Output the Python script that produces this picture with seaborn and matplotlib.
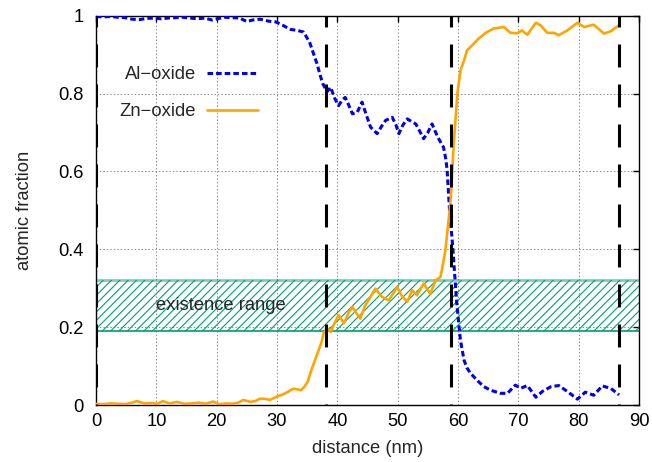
import numpy as np
import pandas as pd
import matplotlib
matplotlib.use("Agg")
import matplotlib.pyplot as plt
import seaborn as sns

# ---------------- data ----------------
al_x = [0, 1.2, 2.4, 3.6, 4.8, 6.0, 7.2, 8.4, 9.6, 10.8, 12.0, 13.2, 14.4, 15.6, 16.8,
        18.0, 19.2, 20.4, 21.4, 22.6, 23.8, 25.0, 26.0, 27.2, 28.6, 29.8, 31.0, 32.2,
        33.4, 34.4, 35.4, 36.0, 36.6, 37.2, 37.6, 38.3, 38.9, 39.5, 40.2, 40.8, 41.3,
        41.9, 42.5, 43.3, 44.1, 44.8, 45.5, 46.6, 47.3, 48.0, 49.1, 49.7, 50.2, 50.9,
        51.6, 52.3, 53.0, 53.6, 54.3, 55.0, 55.7, 56.3, 56.8, 57.6, 58.0, 58.2, 58.6,
        59.0, 59.2, 59.8, 60.4, 61.0, 61.5, 62.1, 63.4, 64.3, 65.4, 67.0, 68.2, 69.5,
        70.4, 71.5, 72.9, 74.0, 75.4, 76.7, 78.1, 79.8, 81.1, 82.5, 83.9, 85.3, 86.7]
al_y = [0.998, 0.997, 0.998, 0.996, 0.995, 0.991, 0.990, 0.993, 0.994, 0.992, 0.994,
        0.995, 0.996, 0.994, 0.992, 0.994, 0.989, 0.993, 0.996, 0.995, 0.994, 0.985,
        0.989, 0.991, 0.986, 0.984, 0.975, 0.965, 0.962, 0.958, 0.932, 0.905, 0.878,
        0.845, 0.825, 0.805, 0.816, 0.790, 0.769, 0.783, 0.790, 0.770, 0.748, 0.752,
        0.778, 0.745, 0.714, 0.697, 0.715, 0.731, 0.739, 0.720, 0.697, 0.720, 0.735,
        0.728, 0.722, 0.705, 0.684, 0.700, 0.722, 0.700, 0.684, 0.662, 0.630, 0.603,
        0.500, 0.430, 0.390, 0.260, 0.167, 0.115, 0.095, 0.081, 0.060, 0.047, 0.038,
        0.030, 0.030, 0.051, 0.043, 0.050, 0.020, 0.035, 0.047, 0.050, 0.035, 0.015,
        0.033, 0.025, 0.049, 0.043, 0.026]

zn_x = [0, 1.2, 2.4, 3.6, 4.8, 6.0, 6.8, 8.0, 9.2, 10.2, 11.1, 12.2, 13.4, 14.6, 15.8,
        17.0, 18.2, 19.4, 20.4, 21.6, 22.6, 23.6, 24.4, 25.6, 26.4, 27.1, 28.0, 28.8,
        29.9, 30.8, 31.6, 32.7, 33.4, 34.0, 34.6, 35.1, 35.7, 36.5, 37.0, 37.4, 37.7,
        38.3, 38.9, 39.6, 40.2, 41.1, 41.8, 42.5, 43.2, 43.8, 44.6, 45.5, 46.3, 47.4,
        48.5, 49.2, 49.9, 50.7, 51.6, 52.4, 53.2, 54.3, 55.4, 56.3, 57.1, 57.6, 57.9,
        58.5, 58.8, 59.3, 59.9, 60.4, 61.0, 61.5, 62.6, 63.4, 64.8, 65.9, 67.6, 68.7,
        69.8, 70.6, 71.5, 72.9, 73.7, 74.8, 75.9, 76.7, 78.1, 79.8, 80.9, 82.5, 84.2,
        85.3, 86.7]
zn_y = [0.003, 0.002, 0.004, 0.003, 0.002, 0.006, 0.010, 0.004, 0.005, 0.003, 0.010,
        0.004, 0.008, 0.003, 0.004, 0.006, 0.003, 0.009, 0.002, 0.004, 0.003, 0.006,
        0.013, 0.008, 0.010, 0.016, 0.016, 0.013, 0.021, 0.026, 0.032, 0.042, 0.040,
        0.038, 0.048, 0.060, 0.090, 0.124, 0.145, 0.162, 0.184, 0.197, 0.188, 0.212,
        0.231, 0.210, 0.235, 0.252, 0.235, 0.222, 0.255, 0.278, 0.299, 0.278, 0.269,
        0.285, 0.303, 0.280, 0.265, 0.295, 0.282, 0.312, 0.286, 0.320, 0.329, 0.370,
        0.397, 0.483, 0.530, 0.672, 0.800, 0.859, 0.885, 0.911, 0.928, 0.941, 0.958,
        0.967, 0.971, 0.956, 0.955, 0.962, 0.951, 0.982, 0.975, 0.956, 0.956, 0.950,
        0.962, 0.982, 0.971, 0.977, 0.954, 0.960, 0.975]

boundaries = [0, 38.1, 58.9, 86.7]
band_low, band_high = 0.19, 0.32
band_label = "existence range"
x_ticks = [0, 10, 20, 30, 40, 50, 60, 70, 80, 90]
y_ticks = [0, 0.2, 0.4, 0.6, 0.8, 1.0]
y_tick_labels = ["0", "0.2", "0.4", "0.6", "0.8", "1"]

# ---------------- style ----------------
sns.set_style("white")
plt.rcParams['font.family'] = ['Liberation Sans', 'DejaVu Sans']
plt.rcParams['lines.scale_dashes'] = False
plt.rcParams['hatch.linewidth'] = 0.8
FS = 13.2

W, H = 652, 462
fig = plt.figure(figsize=(W / 100, H / 100), dpi=100)
ax = fig.add_axes([96 / W, 1 - 405 / H, (639 - 96) / W, (405 - 15.7) / H])

al = pd.DataFrame({"distance": al_x, "fraction": al_y})
zn = pd.DataFrame({"distance": zn_x, "fraction": zn_y})

sns.lineplot(data=al, x="distance", y="fraction", ax=ax, color="#0000ee",
             lw=2.2, linestyle=(0, (4.0, 2.2)), label="Al\u2212oxide",
             estimator=None, sort=False, zorder=4)
sns.lineplot(data=zn, x="distance", y="fraction", ax=ax, color="#ffa500",
             lw=1.9, label="Zn\u2212oxide", estimator=None, sort=False, zorder=4)

# hatched band
ax.axhspan(band_low, band_high, facecolor="none", edgecolor="#009e73",
           hatch="////", lw=0, zorder=2)
ax.axhline(band_high, color="#009e73", alpha=0.5, lw=2.0, zorder=2)
ax.axhline(band_low, color="#009e73", lw=1.2, zorder=2)
ax.text(20.7, 0.256, band_label, ha="center", va="center", fontsize=FS, zorder=5)

# vertical dashed boundaries
for b in boundaries:
    ax.axvline(b, color="black", lw=2.2, linestyle=(15.8, (16.5, 12.3)), zorder=6)

ax.set_xlim(0, 90)
ax.set_ylim(0, 1)
ax.set_xticks(x_ticks)
ax.set_yticks(y_ticks)
ax.set_yticklabels(y_tick_labels)
ax.grid(True, color="#888888", linestyle=(0, (1, 1.5)), lw=0.7, zorder=0)
ax.set_axisbelow(True)
ax.tick_params(axis="both", direction="in", length=4.3, width=1.0, top=True,
               right=True, labelsize=FS, colors="black")
ax.tick_params(axis="x", pad=6)
ax.tick_params(axis="y", pad=9)
for s in ax.spines.values():
    s.set_color("black")
    s.set_linewidth(1.0)

ax.set_xlabel("distance (nm)", fontsize=FS, va="center")
ax.xaxis.set_label_coords(0.5, -0.111)
ax.set_ylabel("atomic fraction", fontsize=FS, va="center", ha="center",
              rotation_mode="default")
ax.yaxis.set_label_coords(-0.132, 0.5)

ax.legend(loc="upper right", bbox_to_anchor=(258 / W, 1 - 66 / H),
          bbox_transform=fig.transFigure, frameon=False, markerfirst=False,
          handlelength=2.78, handletextpad=0.6, labelspacing=1.09, fontsize=FS,
          borderpad=0, borderaxespad=0)

fig.savefig("out.png", dpi=100)
